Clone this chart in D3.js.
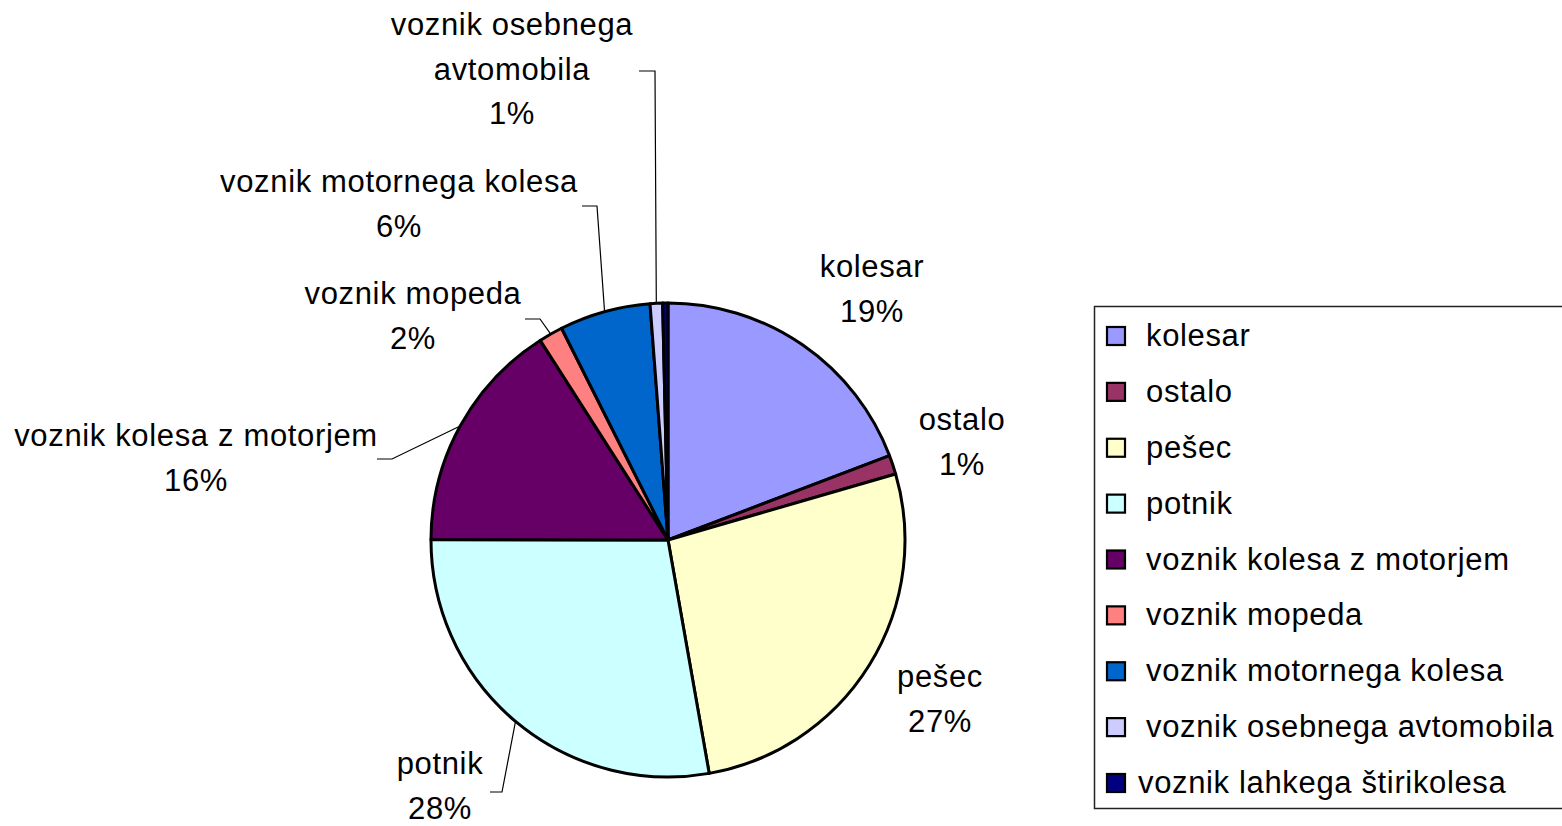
<!DOCTYPE html>
<html>
<head>
<meta charset="utf-8">
<script src="https://cdn.jsdelivr.net/npm/d3@7"></script>
<style>
  body { margin: 0; background: #fff; }
  svg text { font-family: "Liberation Sans", Arial, sans-serif; fill: #000; letter-spacing: 0.65px; }
</style>
</head>
<body>
<div id="chart"></div>
<script>
/**
 * DATA
 * */
const categories = [
  "kolesar",
  "ostalo",
  "pešec",
  "potnik",
  "voznik kolesa z motorjem",
  "voznik mopeda",
  "voznik motornega kolesa",
  "voznik osebnega avtomobila",
  "voznik lahkega štirikolesa"
];
const shares = [19.2, 1.3, 26.7, 27.8, 15.9, 1.65, 6.2, 0.85, 0.36];
const colors = ["#9999FF", "#993366", "#FFFFCC", "#CCFFFF", "#660066",
  "#FF8080", "#0066CC", "#CCCCFF", "#000080"];
// data label text lines (null = no label)
const labelLines = [
  ["kolesar", "19%"],
  ["ostalo", "1%"],
  ["pešec", "27%"],
  ["potnik", "28%"],
  ["voznik kolesa z motorjem", "16%"],
  ["voznik mopeda", "2%"],
  ["voznik motornega kolesa", "6%"],
  ["voznik osebnega", "avtomobila", "1%"],
  null
];

/**
 * LAYOUT
 * */
const width = 1562,
  height = 826,
  cx = 668,
  cy = 540,
  radius = 237,
  fontSize = 31,
  lineGap = 44.5;

// label anchor: center x, first baseline y; leader: elbow + end (or null)
const labelLayout = [
  { x: 872, y: 277, leader: null },
  { x: 962, y: 430, leader: null },
  { x: 940, y: 687, leader: null },
  { x: 440, y: 774, leader: [[502, 792], [490, 792]] },
  { x: 196, y: 446, leader: [[392, 459], [377, 459]] },
  { x: 413, y: 304, leader: [[540, 319], [525, 319]] },
  { x: 399, y: 192, leader: [[597, 206], [582, 206]] },
  { x: 512, y: 35, leader: [[655, 71], [639, 71]] },
  null
];

const svg = d3.select("#chart")
  .append("svg")
  .attr("width", width)
  .attr("height", height);

const pie = d3.pie().sort(null).value(d => d);
const arcs = pie(shares);
const arc = d3.arc().innerRadius(0).outerRadius(radius);

const g = svg.append("g").attr("transform", `translate(${cx},${cy})`);

g.selectAll("path")
  .data(arcs)
  .join("path")
  .attr("d", arc)
  .attr("fill", (d, i) => colors[i])
  .attr("stroke", "#000")
  .attr("stroke-width", 3)
  .attr("stroke-linejoin", "round");

// leader lines
arcs.forEach((a, i) => {
  const lay = labelLayout[i];
  if (!lay || !lay.leader) return;
  const mid = (a.startAngle + a.endAngle) / 2;
  const start = [cx + Math.sin(mid) * radius, cy - Math.cos(mid) * radius];
  svg.append("path")
    .attr("d", d3.line()([start, ...lay.leader]))
    .attr("fill", "none")
    .attr("stroke", "#000")
    .attr("stroke-width", 1.2);
});

// data labels
labelLines.forEach((lines, i) => {
  if (!lines) return;
  const lay = labelLayout[i];
  const t = svg.append("text")
    .attr("text-anchor", "middle")
    .attr("font-size", fontSize);
  lines.forEach((ln, j) => {
    t.append("tspan").attr("x", lay.x).attr("y", lay.y + j * lineGap).text(ln);
  });
});

// legend
const legend = svg.append("g");
legend.append("rect")
  .attr("x", 1094.5)
  .attr("y", 306.5)
  .attr("width", 500)
  .attr("height", 502)
  .attr("fill", "#fff")
  .attr("stroke", "#222")
  .attr("stroke-width", 1.5);

const rowY = d3.scalePoint().domain(categories).range([336, 783]);

const item = legend.selectAll("g.item")
  .data(categories)
  .join("g")
  .attr("class", "item")
  .attr("transform", d => `translate(0,${rowY(d)})`);

item.append("rect")
  .attr("x", 1107)
  .attr("y", -9)
  .attr("width", 18)
  .attr("height", 18)
  .attr("fill", (d, i) => colors[i])
  .attr("stroke", "#000")
  .attr("stroke-width", 2.2);

item.append("text")
  .attr("x", (d, i) => i === categories.length - 1 ? 1138 : 1146)
  .attr("y", 10)
  .attr("font-size", fontSize)
  .text(d => d);
</script>
</body>
</html>
